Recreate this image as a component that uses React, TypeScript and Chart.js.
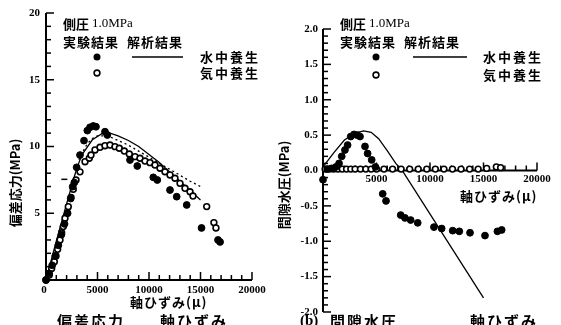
import React, { useEffect, useRef } from "react";
import { Chart, registerables } from "chart.js";
Chart.register(...registerables);

// ---------- Left panel: deviatoric stress vs axial strain ----------
const leftWaterStrain = [0, 300, 600, 900, 1200, 1500, 1800, 2100, 2400, 2592, 2750, 2977, 3301, 3689, 4013, 4272, 4595, 4854, 5728, 5954, 8155, 8864, 10417, 10806, 12039, 12689, 13660, 15100, 16700, 16900];
const leftWaterStress = [0, 0.5, 1.1, 1.8, 2.6, 3.4, 4.2, 5.0, 6.1, 6.99, 7.3, 8.44, 9.36, 10.44, 11.19, 11.44, 11.54, 11.48, 11.11, 10.86, 8.99, 8.54, 7.69, 7.49, 6.74, 6.24, 5.62, 3.9, 3.0, 2.85];

const leftAirStrain = [0, 320, 550, 810, 970, 1130, 1360, 1520, 1680, 1845, 2165, 2427, 2650, 2913, 3300, 3786, 4204, 4369, 4757, 5243, 5728, 6214, 6699, 7117, 7602, 8087, 8641, 9126, 9612, 10097, 10583, 11068, 11553, 12039, 12524, 13010, 13495, 13981, 14272, 15600, 16300, 16500];
const leftAirStress = [0, 0.37, 0.87, 1.37, 1.8, 2.3, 3.0, 3.54, 4.0, 4.62, 5.49, 6.19, 6.79, 7.49, 8.1, 8.86, 9.12, 9.36, 9.74, 9.94, 10.06, 10.11, 9.99, 9.87, 9.66, 9.44, 9.24, 9.12, 8.91, 8.79, 8.61, 8.37, 8.11, 7.87, 7.62, 7.24, 6.87, 6.61, 6.29, 5.5, 4.3, 3.9];

const leftWaterCalcStrain = [0, 1000, 2000, 2700, 3000, 3500, 4500, 5500, 6000, 7000, 8000, 9000, 10000, 11000, 12000, 13000, 14000, 15000];
const leftWaterCalcStress = [0, 2.9, 5.7, 7.6, 8.4, 9.4, 10.5, 11.0, 11.05, 10.8, 10.45, 10.0, 9.4, 8.8, 8.1, 7.4, 6.7, 6.0];

const leftAirCalcStrain = [3200, 3500, 4000, 4500, 5000, 6000, 8000, 10000, 12000, 14000, 15000];
const leftAirCalcStress = [9.0, 9.5, 10.2, 10.6, 10.8, 10.8, 10.1, 9.2, 8.3, 7.4, 7.0];

const leftMarkStrain = [1780];
const leftMarkStress = [7.54];

const leftYTicks = [5, 10, 15, 20];
const leftXTicks = [5000, 10000, 15000, 20000];

// ---------- Right panel: pore water pressure vs axial strain ----------
const rightWaterStrain = [0, 400, 800, 1200, 1500, 1750, 2050, 2300, 2590, 2900, 3210, 3460, 3925, 4170, 4550, 4900, 5580, 5890, 7260, 7660, 8190, 8850, 10370, 11090, 12120, 12740, 13740, 15140, 16300, 16700];
const rightWaterPore = [-0.13, 0.02, 0.03, 0.05, 0.1, 0.2, 0.29, 0.36, 0.48, 0.51, 0.5, 0.48, 0.34, 0.24, 0.15, 0.05, -0.33, -0.43, -0.63, -0.67, -0.7, -0.74, -0.8, -0.82, -0.85, -0.86, -0.88, -0.92, -0.86, -0.84];

const rightAirStrain = [200, 600, 1000, 1400, 1800, 2200, 2600, 3000, 3500, 4000, 4500, 5000, 5700, 6500, 7300, 8100, 8900, 9700, 10500, 11300, 12100, 12900, 13700, 14500, 15300, 16200, 16600];
const rightAirPore = [0.02, 0.02, 0.02, 0.02, 0.02, 0.02, 0.02, 0.02, 0.02, 0.02, 0.02, 0.02, 0.02, 0.02, 0.02, 0.02, 0.02, 0.02, 0.02, 0.02, 0.02, 0.02, 0.02, 0.02, 0.03, 0.05, 0.04];

const rightCalcStrain = [0, 1000, 2000, 3000, 3800, 4500, 5200, 6000, 6800, 7400, 15000];
const rightCalcPore = [0.05, 0.25, 0.43, 0.53, 0.56, 0.54, 0.45, 0.28, 0.1, 0.0, -1.8];

const rightYTicks = [2.0, 1.5, 1.0, 0.5, 0.0, -0.5, -1.0, -1.5, -2.0];
const rightXTicks = [5000, 10000, 15000, 20000];

const pts = (xs: number[], ys: number[]) => xs.map((x, i) => ({ x, y: ys[i] }));

const NUM_FONT = 'bold 11px "Liberation Serif", "DejaVu Serif", serif';
const JP_FONT = 'bold 13px "Noto Sans CJK JP", sans-serif';
const SERIF13 = '13px "Liberation Serif", serif';
const CAP_FONT = 'bold 15px "Noto Sans CJK JP", sans-serif';

function filledDs(data: any[]) {
  return { data, showLine: false, pointRadius: 3.4, pointBackgroundColor: "#000", pointBorderColor: "#000", pointBorderWidth: 1, clip: false as any };
}
function openDs(data: any[]) {
  return { data, showLine: false, pointRadius: 2.9, pointBackgroundColor: "#fff", pointBorderColor: "#000", pointBorderWidth: 1.6, clip: false as any };
}
function lineDs(data: any[], dash: number[] = []) {
  return { data, showLine: true, pointRadius: 0, borderColor: "#000", borderWidth: 1.3, borderDash: dash, clip: false as any };
}

function text(ctx: CanvasRenderingContext2D, s: string, x: number, y: number, font: string, align: CanvasTextAlign = "left", baseline: CanvasTextBaseline = "middle", spacing = "0px") {
  ctx.save();
  ctx.font = font;
  ctx.fillStyle = "#000";
  ctx.textAlign = align;
  ctx.textBaseline = baseline;
  (ctx as any).letterSpacing = spacing;
  ctx.fillText(s, x, y);
  ctx.restore();
}

function vText(ctx: CanvasRenderingContext2D, s: string, cx: number, cy: number, font: string) {
  ctx.save();
  ctx.translate(cx, cy);
  ctx.rotate(-Math.PI / 2);
  ctx.font = font;
  ctx.fillStyle = "#000";
  ctx.textAlign = "center";
  ctx.textBaseline = "middle";
  ctx.fillText(s, 0, 0);
  ctx.restore();
}

function legendBlock(ctx: CanvasRenderingContext2D, o: { tx: number; mx: number; l1: number; l2: number; tx2: number; r1: number; r2: number }) {
  ctx.save();
  ctx.font = JP_FONT;
  const w = ctx.measureText("側圧 ").width;
  ctx.restore();
  text(ctx, "側圧 ", o.tx, 24, JP_FONT);
  text(ctx, "1.0MPa", o.tx + w, 24, SERIF13);
  text(ctx, "実験結果  解析結果", o.tx, 42, JP_FONT, "left", "middle", "1px");
  ctx.save();
  ctx.fillStyle = "#000";
  ctx.beginPath();
  ctx.arc(o.mx, o.r1, 3.5, 0, Math.PI * 2);
  ctx.fill();
  ctx.strokeStyle = "#000";
  ctx.lineWidth = 1.6;
  ctx.fillStyle = "#fff";
  ctx.beginPath();
  ctx.arc(o.mx, o.r2, 2.9, 0, Math.PI * 2);
  ctx.fill();
  ctx.stroke();
  ctx.lineWidth = 1.3;
  ctx.beginPath();
  ctx.moveTo(o.l1, o.r1);
  ctx.lineTo(o.l2, o.r1);
  ctx.stroke();
  ctx.restore();
  text(ctx, "水中養生", o.tx2, o.r1, JP_FONT, "left", "middle", "2px");
  text(ctx, "気中養生", o.tx2, o.r2, JP_FONT, "left", "middle", "2px");
}

const leftPlugin = {
  id: "leftAxes",
  beforeDatasetsDraw(chart: any) {
    const ctx: CanvasRenderingContext2D = chart.ctx;
    const xs = chart.scales.x, ys = chart.scales.y;
    const x0 = xs.getPixelForValue(0);
    const yb = ys.getPixelForValue(0);
    ctx.save();
    ctx.strokeStyle = "#000";
    ctx.lineWidth = 2;
    ctx.beginPath();
    ctx.moveTo(x0, ys.getPixelForValue(20));
    ctx.lineTo(x0, yb);
    ctx.lineTo(xs.getPixelForValue(20000), yb);
    ctx.stroke();
    ctx.lineWidth = 1.5;
    for (let v = 0; v <= 20; v++) {
      const y = ys.getPixelForValue(v);
      const len = v % 5 === 0 ? 8 : 5;
      ctx.beginPath();
      ctx.moveTo(x0, y);
      ctx.lineTo(x0 + len, y);
      ctx.stroke();
    }
    for (let v = 0; v <= 20000; v += 1000) {
      const x = xs.getPixelForValue(v);
      const len = v % 5000 === 0 ? 8 : 5;
      ctx.beginPath();
      ctx.moveTo(x, yb);
      ctx.lineTo(x, yb - len);
      ctx.stroke();
    }
    ctx.restore();
    leftYTicks.forEach((v) => text(ctx, String(v), x0 - 6, ys.getPixelForValue(v), NUM_FONT, "right"));
    leftXTicks.forEach((v) => text(ctx, String(v), xs.getPixelForValue(v), yb + 10, NUM_FONT, "center"));
    text(ctx, "0", x0 - 2, yb + 10, NUM_FONT, "center");
    text(ctx, "軸ひずみ(μ)", 130, 302, JP_FONT, "left", "middle", "1px");
    vText(ctx, "偏差応力(MPa)", 15, 183, JP_FONT);
    legendBlock(ctx, { tx: 63, mx: 97, l1: 132, l2: 183, tx2: 200, r1: 57, r2: 73 });
    text(ctx, "偏差応力", 57, 314, CAP_FONT, "left", "top", "2px");
    text(ctx, "軸ひずみ", 160, 314, CAP_FONT, "left", "top", "2px");
  },
};

const RX = 265; // right canvas left offset on page

const rightPlugin = {
  id: "rightAxes",
  beforeDatasetsDraw(chart: any) {
    const ctx: CanvasRenderingContext2D = chart.ctx;
    const xs = chart.scales.x, ys = chart.scales.y;
    const x0 = xs.getPixelForValue(0);
    const yz = ys.getPixelForValue(0);
    ctx.save();
    ctx.strokeStyle = "#000";
    ctx.lineWidth = 2;
    ctx.beginPath();
    ctx.moveTo(x0, ys.getPixelForValue(2));
    ctx.lineTo(x0, ys.getPixelForValue(-2));
    ctx.stroke();
    ctx.beginPath();
    ctx.moveTo(x0, yz);
    ctx.lineTo(xs.getPixelForValue(20000), yz);
    ctx.stroke();
    ctx.lineWidth = 1.5;
    for (let i = -20; i <= 20; i++) {
      const y = ys.getPixelForValue(i / 10);
      const len = i % 5 === 0 ? 8 : 5;
      ctx.beginPath();
      ctx.moveTo(x0, y);
      ctx.lineTo(x0 + len, y);
      ctx.stroke();
    }
    for (let v = 0; v <= 20000; v += 1000) {
      const x = xs.getPixelForValue(v);
      const len = v % 5000 === 0 ? 8 : 5;
      ctx.beginPath();
      ctx.moveTo(x, yz);
      ctx.lineTo(x, yz - len);
      ctx.stroke();
    }
    ctx.restore();
    rightYTicks.forEach((v) => text(ctx, v.toFixed(1), x0 - 5, ys.getPixelForValue(v), NUM_FONT, "right"));
    rightXTicks.forEach((v) => text(ctx, String(v), xs.getPixelForValue(v), yz + 9, NUM_FONT, "center"));
    text(ctx, "軸ひずみ(μ)", 460 - RX, 196, JP_FONT, "left", "middle", "1px");
    vText(ctx, "間隙水圧(MPa)", 284 - RX, 185, JP_FONT);
    legendBlock(ctx, { tx: 340 - RX, mx: 376 - RX, l1: 413 - RX, l2: 467 - RX, tx2: 483 - RX, r1: 57, r2: 75 });
    text(ctx, "(b)", 300 - RX, 314, 'bold 15px "Liberation Serif", serif', "left", "top");
    text(ctx, "間隙水圧", 330 - RX, 314, CAP_FONT, "left", "top", "2px");
    text(ctx, "軸ひずみ", 470 - RX, 314, CAP_FONT, "left", "top", "2px");
  },
};

function baseOptions(padding: any, xmin: number, xmax: number, ymin: number, ymax: number) {
  return {
    responsive: false,
    animation: false,
    devicePixelRatio: 1,
    events: [],
    layout: { padding },
    scales: {
      x: { type: "linear", min: xmin, max: xmax, display: false },
      y: { type: "linear", min: ymin, max: ymax, display: false },
    },
    plugins: { legend: { display: false }, tooltip: { enabled: false } },
  } as any;
}

export default function App() {
  const leftRef = useRef<HTMLCanvasElement>(null);
  const rightRef = useRef<HTMLCanvasElement>(null);

  useEffect(() => {
    const left = new Chart(leftRef.current!, {
      type: "scatter",
      data: {
        datasets: [
          filledDs(pts(leftWaterStrain, leftWaterStress)),
          openDs(pts(leftAirStrain, leftAirStress)),
          { data: pts(leftMarkStrain, leftMarkStress), showLine: false, pointStyle: "line", pointRadius: 3, borderColor: "#000", pointBorderColor: "#000", pointBorderWidth: 1.5, clip: false } as any,
          lineDs(pts(leftWaterCalcStrain, leftWaterCalcStress)),
          lineDs(pts(leftAirCalcStrain, leftAirCalcStress), [2, 3]),
        ] as any,
      },
      options: baseOptions({ left: 46, right: 28, top: 13, bottom: 45 }, 0, 20000, 0, 20),
      plugins: [leftPlugin],
    });
    const right = new Chart(rightRef.current!, {
      type: "scatter",
      data: {
        datasets: [
          filledDs(pts(rightWaterStrain, rightWaterPore)),
          openDs(pts(rightAirStrain, rightAirPore)),
          lineDs(pts(rightCalcStrain, rightCalcPore)),
        ] as any,
      },
      options: baseOptions({ left: 323 - RX, right: 296 - (537 - RX), top: 29, bottom: 13 }, 0, 20000, -2, 2),
      plugins: [rightPlugin],
    });
    return () => {
      left.destroy();
      right.destroy();
    };
  }, []);

  return (
    <div style={{ position: "fixed", left: 0, top: 0, width: 561, height: 325, background: "#fff", overflow: "hidden" }}>
      <canvas ref={leftRef} width={280} height={325} style={{ position: "absolute", left: 0, top: 0, width: 280, height: 325 }} />
      <canvas ref={rightRef} width={296} height={325} style={{ position: "absolute", left: RX, top: 0, width: 296, height: 325 }} />
    </div>
  );
}
